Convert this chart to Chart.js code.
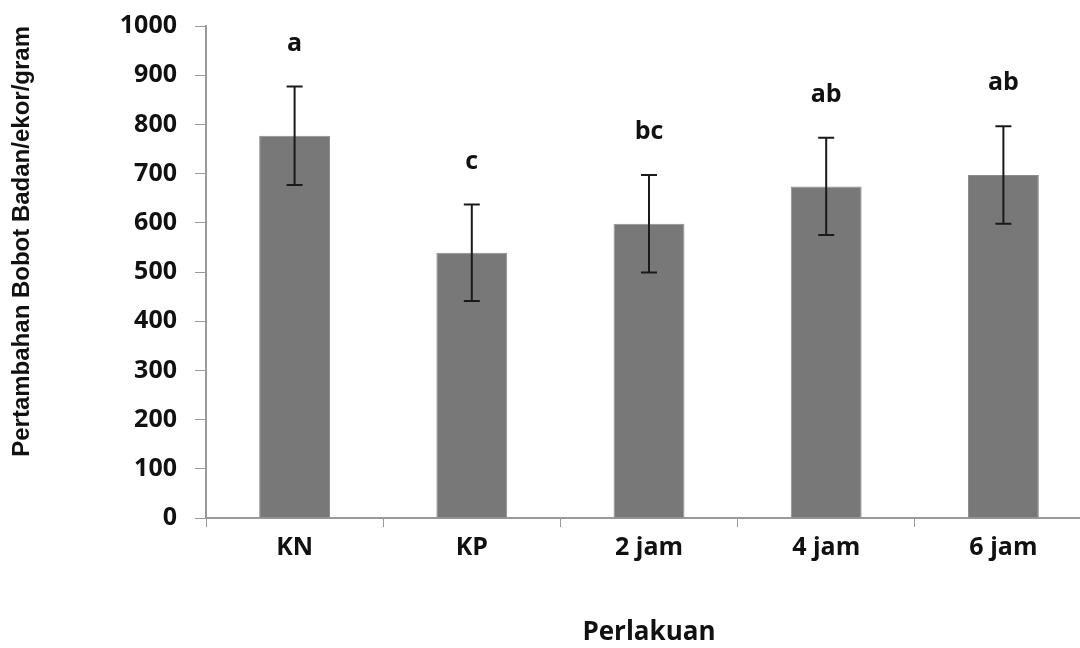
<!DOCTYPE html>
<html>
<head>
<meta charset="utf-8">
<style>
  html, body { margin: 0; padding: 0; background: #fff; overflow: hidden; }
  #wrap { position: relative; width: 1096px; height: 648px; }
</style>
</head>
<body>
<div id="wrap">
  <canvas id="bobotChart"></canvas>
</div>

<script src="https://cdnjs.cloudflare.com/ajax/libs/Chart.js/4.4.1/chart.umd.js"></script>
<script>
  const labels  = ['KN', 'KP', '2 jam', '4 jam', '6 jam'];
  const bobot   = [777, 539, 598, 674, 697];
  const galat   = [100, 98, 99, 99, 99];
  const notasi  = ['a', 'c', 'bc', 'ab', 'ab'];
  const yTicks  = [0, 100, 200, 300, 400, 500, 600, 700, 800, 900, 1000];

  const tickFont = { family: 'Open Sans', weight: 'bold', size: 25 };

  // error bars + letters above each bar
  const errorBars = {
    id: 'errorBars',
    afterDatasetsDraw(chart) {
      const { ctx, scales: { x, y } } = chart;
      ctx.save();
      ctx.strokeStyle = '#1a1a1a';
      ctx.lineWidth = 2;
      bobot.forEach((v, i) => {
        const cx = x.getPixelForValue(i);
        const top = y.getPixelForValue(v + galat[i]);
        const bot = y.getPixelForValue(v - galat[i]);
        ctx.beginPath();
        ctx.moveTo(cx, top); ctx.lineTo(cx, bot);
        ctx.moveTo(cx - 8, top); ctx.lineTo(cx + 8, top);
        ctx.moveTo(cx - 8, bot); ctx.lineTo(cx + 8, bot);
        ctx.stroke();
        ctx.fillStyle = '#111';
        ctx.font = 'bold 25px "Open Sans"';
        ctx.textAlign = 'center';
        ctx.textBaseline = 'middle';
        ctx.fillText(notasi[i], cx, top - 43);
      });
      ctx.restore();
    }
  };

  new Chart(document.getElementById('bobotChart'), {
    type: 'bar',
    data: {
      labels: labels,
      datasets: [{
        data: bobot,
        backgroundColor: '#787878',
        borderColor: '#8c8c8c',
        borderWidth: 1,
        barPercentage: 0.4,
        categoryPercentage: 1
      }]
    },
    options: {
      responsive: true,
      maintainAspectRatio: false,
      animation: false,
      layout: { padding: { top: 26, left: 8, right: 4 } },
      plugins: { legend: { display: false }, tooltip: { enabled: false } },
      scales: {
        x: {
          grid: { display: true, drawOnChartArea: false, color: '#999', tickLength: 9 },
          border: { color: '#999', width: 2 },
          ticks: { color: '#111', font: tickFont, padding: 6 },
          title: { display: true, text: 'Perlakuan', color: '#111', font: { family: 'Open Sans', weight: 'bold', size: 26 }, padding: { top: 26, bottom: 0 } },
          afterFit(s) { s.height = 130; }
        },
        y: {
          min: 0,
          max: 1000,
          afterBuildTicks(s) { s.ticks = yTicks.map(v => ({ value: v })); },
          grid: { display: true, drawOnChartArea: false, color: '#999', tickLength: 11 },
          border: { color: '#999', width: 2 },
          ticks: { color: '#111', font: tickFont, padding: 18, callback: v => String(v) },
          title: {
            display: true, text: 'Pertambahan Bobot Badan/ekor/gram', align: 'end', color: '#111',
            font: { family: 'Liberation Sans, Arial', weight: 'bold', size: 24 }, padding: { top: 0, bottom: 10 }
          },
          afterFit(s) { s.width = 198; s.paddingTop = 0; s.paddingBottom = 0; }
        }
      }
    },
    plugins: [errorBars]
  });
</script>
</body>
</html>
